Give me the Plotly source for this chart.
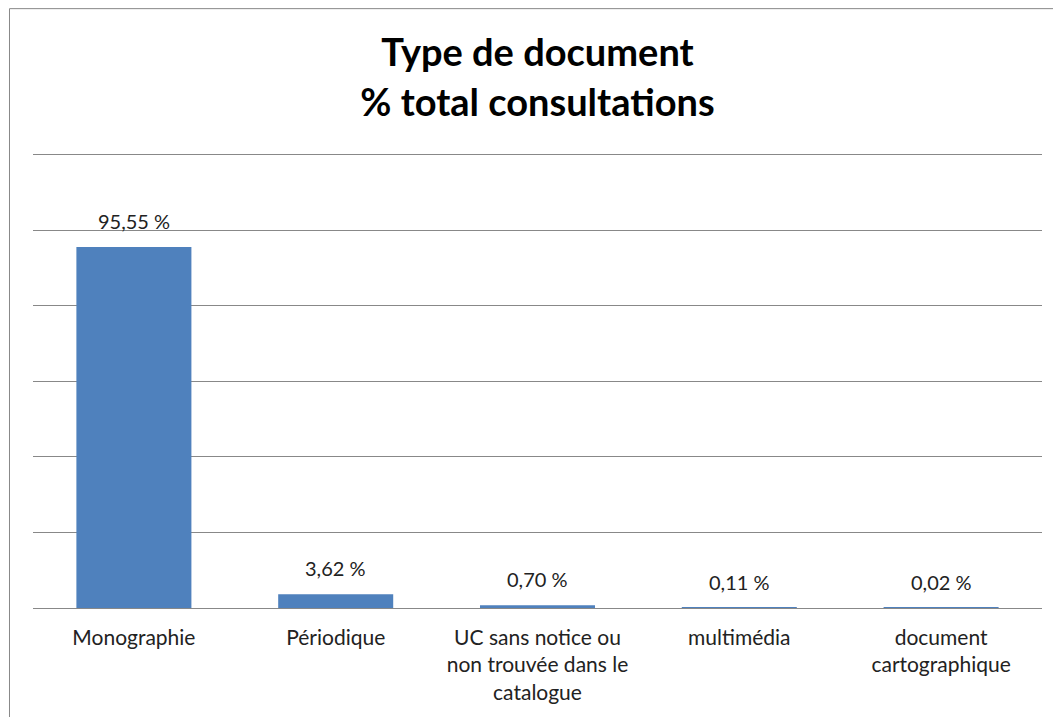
import plotly.graph_objects as go

# données
categories = ["Monographie", "Périodique",
              "UC sans notice ou<br>non trouvée dans le<br>catalogue",
              "multimédia", "document<br>cartographique"]
valeurs = [95.55, 3.62, 0.70, 0.11, 0.02]
etiquettes = ["95,55 %", "3,62 %", "0,70 %", "0,11 %", "0,02 %"]

police = "Lato"

fig = go.Figure()
fig.add_trace(go.Bar(
    x=categories,
    y=valeurs,
    marker_color="#4F81BD",
    marker_line_width=0,
    hoverinfo="skip",
))

# étiquettes de valeurs au-dessus des barres
for cat, val, txt in zip(categories, valeurs, etiquettes):
    fig.add_annotation(x=cat, y=val, text=txt, showarrow=False,
                       yanchor="bottom", yshift=12,
                       font=dict(family=police, size=20, color="#222"))

# cadre du graphique (seuls les bords haut et gauche sont visibles)
fig.add_shape(type="rect", xref="paper", yref="paper",
              x0=-0.0233, x1=1.1, y0=-0.5, y1=1.3115,
              line=dict(color="#888", width=1), layer="below")

fig.update_layout(
    width=1053, height=709,
    margin=dict(l=25, r=19, t=143, b=109),
    paper_bgcolor="white", plot_bgcolor="white",
    title=dict(text="<b>Type de document<br>% total consultations</b>",
               x=0.5, xref="paper", y=0.918, yanchor="top",
               font=dict(family=police, size=38, color="black")),
    bargap=0.43,
    showlegend=False,
    xaxis=dict(tickfont=dict(family=police, size=21, color="#222"),
               showline=False, ticks="", ticklabelstandoff=15),
    yaxis=dict(range=[0, 121], tickvals=[0, 20, 40, 60, 80, 100, 120],
               showticklabels=False,
               showgrid=True, gridcolor="#888", gridwidth=1,
               zeroline=True, zerolinecolor="#888", zerolinewidth=1),
)

fig.write_html("out.html")
